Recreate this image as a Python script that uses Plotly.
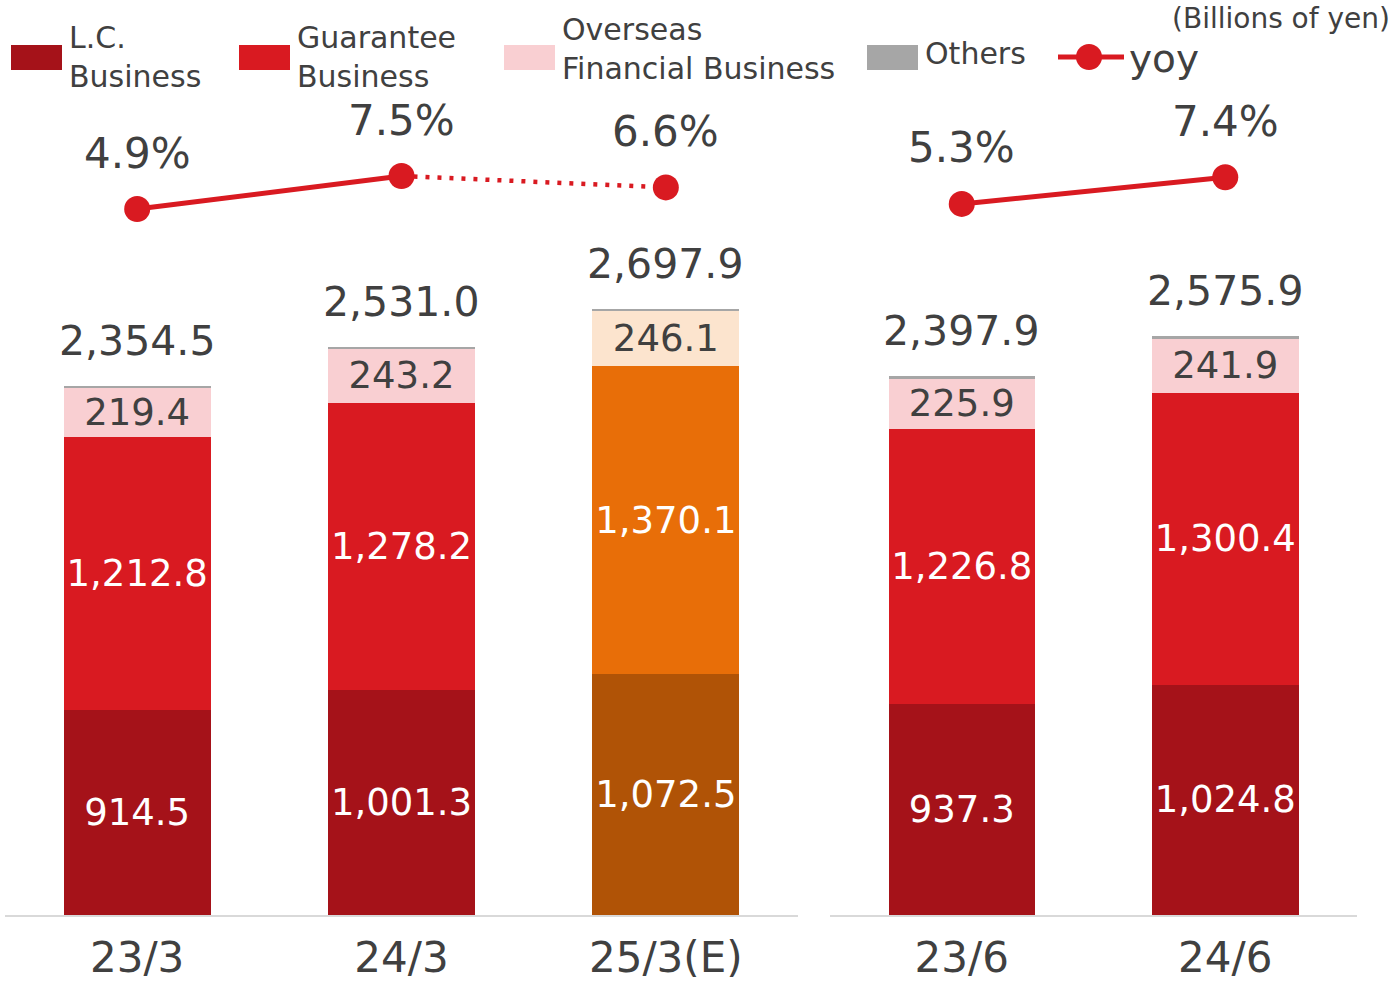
import plotly.graph_objects as go

# ---------------- data ----------------
cats_left = ["23/3", "24/3", "25/3(E)"]
cats_right = ["23/6", "24/6"]

lc_left = [914.5, 1001.3, 1072.5]
lc_right = [937.3, 1024.8]
guar_left = [1212.8, 1278.2, 1370.1]
guar_right = [1226.8, 1300.4]
over_left = [219.4, 243.2, 246.1]
over_right = [225.9, 241.9]
total_left = [2354.5, 2531.0, 2697.9]
total_right = [2397.9, 2575.9]
others_left = [round(t - a - b - c, 1) for t, a, b, c in zip(total_left, lc_left, guar_left, over_left)]
others_right = [round(t - a - b - c, 1) for t, a, b, c in zip(total_right, lc_right, guar_right, over_right)]

yoy_left = [4.9, 7.5, 6.6]
yoy_right = [5.3, 7.4]

# ---------------- style ----------------
FONT = "DejaVu Sans"
TXT = "#404040"
C_LC = "#A51219"
C_GU = "#D91A21"
C_OV = "#F9CFD2"
C_OT = "#A6A6A6"
C_LC_E = "#B05306"
C_GU_E = "#E86E08"
C_OV_E = "#FCE4CE"
RED = "#D91A21"

W, H = 1394, 986


def px(x):
    return x / W


def py(y):
    return 1 - y / H


def colors(n, normal, est, est_last):
    return [est if (est_last and i == n - 1) else normal for i in range(n)]


fig = go.Figure()


def add_bars(cats, lc, gu, ov, ot, xaxis, est_last):
    n = len(cats)
    fmt = lambda arr: [f"{v:,.1f}" for v in arr]
    common = dict(x=cats, xaxis=xaxis, yaxis="y", textposition="inside",
                  insidetextanchor="middle", textangle=0, constraintext="none",
                  marker_line_width=0, showlegend=False, hoverinfo="skip")
    fig.add_trace(go.Bar(y=lc, text=fmt(lc), name="L.C. Business",
                         marker_color=colors(n, C_LC, C_LC_E, est_last),
                         textfont=dict(family=FONT, size=37, color="white"), **common))
    fig.add_trace(go.Bar(y=gu, text=fmt(gu), name="Guarantee Business",
                         marker_color=colors(n, C_GU, C_GU_E, est_last),
                         textfont=dict(family=FONT, size=37, color="white"), **common))
    fig.add_trace(go.Bar(y=ov, text=fmt(ov), name="Overseas Financial Business",
                         marker_color=colors(n, C_OV, C_OV_E, est_last),
                         textfont=dict(family=FONT, size=37, color=TXT), **common))
    fig.add_trace(go.Bar(y=ot, name="Others", marker_color=C_OT,
                         x=cats, xaxis=xaxis, yaxis="y", marker_line_width=0,
                         showlegend=False, hoverinfo="skip"))


add_bars(cats_left, lc_left, guar_left, over_left, others_left, "x", True)
add_bars(cats_right, lc_right, guar_right, over_right, others_right, "x2", False)

# yoy lines
fig.add_trace(go.Scatter(x=cats_left[:2], y=yoy_left[:2], xaxis="x", yaxis="y2",
                         mode="lines", line=dict(color=RED, width=5),
                         showlegend=False, hoverinfo="skip"))
fig.add_trace(go.Scatter(x=cats_left[1:], y=yoy_left[1:], xaxis="x", yaxis="y2",
                         mode="lines", line=dict(color=RED, width=4.5, dash="4px,8px"),
                         showlegend=False, hoverinfo="skip"))
fig.add_trace(go.Scatter(x=cats_left, y=yoy_left, xaxis="x", yaxis="y2",
                         mode="markers", marker=dict(color=RED, size=26),
                         name="yoy", showlegend=False, hoverinfo="skip"))
fig.add_trace(go.Scatter(x=cats_right, y=yoy_right, xaxis="x2", yaxis="y2",
                         mode="lines+markers", line=dict(color=RED, width=5),
                         marker=dict(color=RED, size=26),
                         name="yoy", showlegend=False, hoverinfo="skip"))

annotations = []
# totals
for cats, tots, xr in [(cats_left, total_left, "x"), (cats_right, total_right, "x2")]:
    for c, t in zip(cats, tots):
        annotations.append(dict(x=c, y=t, xref=xr, yref="y", text=f"{t:,.1f}",
                                showarrow=False, yanchor="middle", yshift=45,
                                font=dict(family=FONT, size=41, color=TXT)))
# yoy labels
for cats, vals, xr in [(cats_left, yoy_left, "x"), (cats_right, yoy_right, "x2")]:
    for c, v in zip(cats, vals):
        annotations.append(dict(x=c, y=v, xref=xr, yref="y2", text=f"{v:.1f}%",
                                showarrow=False, yanchor="middle", yshift=56,
                                font=dict(family=FONT, size=42, color=TXT)))

# manual legend
LF = dict(family=FONT, size=30, color=TXT)
shapes = []
legend_items = [
    (11, C_LC, "L.C.<br>Business", 67, 57.5),
    (239, C_GU, "Guarantee<br>Business", 295, 57.5),
    (504, C_OV, "Overseas<br>Financial Business", 560, 49),
    (867, C_OT, "Others", 923, 54),
]
for sx, col, label, tx, ty in legend_items:
    shapes.append(dict(type="rect", xref="paper", yref="paper",
                       x0=px(sx), x1=px(sx + 51), y0=py(70), y1=py(45),
                       fillcolor=col, line_width=0, layer="above"))
    annotations.append(dict(x=px(tx), y=py(ty), xref="paper", yref="paper",
                            text=label, showarrow=False, xanchor="left",
                            yanchor="middle", align="left", font=LF))
shapes.append(dict(type="line", xref="paper", yref="paper",
                   x0=px(1058), x1=px(1124), y0=py(57), y1=py(57),
                   line=dict(color=RED, width=5)))
shapes.append(dict(type="circle", xref="paper", yref="paper",
                   x0=px(1089 - 13), x1=px(1089 + 13), y0=py(57 + 13), y1=py(57 - 13),
                   fillcolor=RED, line_width=0))
annotations.append(dict(x=px(1127), y=py(58), xref="paper", yref="paper",
                        text="yoy", showarrow=False, xanchor="left", yanchor="middle",
                        font=dict(family=FONT, size=39, color=TXT)))
annotations.append(dict(x=px(1392), y=py(19), xref="paper", yref="paper",
                        text="(Billions of yen)", showarrow=False, xanchor="right",
                        yanchor="middle", font=dict(family=FONT, size=28, color=TXT)))

ydom = [py(915), py(100)]
xaxis_common = dict(type="category", showline=True, linecolor="#D9D9D9", linewidth=2,
                    showgrid=False, zeroline=False, ticks="outside", ticklen=5,
                    tickcolor="rgba(0,0,0,0)", automargin=False,
                    tickfont=dict(family=FONT, size=42, color=TXT), anchor="y",
                    fixedrange=True)

fig.update_layout(
    width=W, height=H, margin=dict(l=0, r=0, t=0, b=0),
    paper_bgcolor="white", plot_bgcolor="white",
    barmode="stack", bargap=0.444, showlegend=False,
    xaxis=dict(domain=[px(5), px(798)], range=[-0.5, 2.5], **xaxis_common),
    xaxis2=dict(domain=[px(830), px(1357)], range=[-0.5, 1.5], **xaxis_common),
    yaxis=dict(domain=ydom, range=[0, 815 / 0.2246], visible=False, fixedrange=True,
               automargin=False),
    yaxis2=dict(overlaying="y", range=[4.9 - 706 / 12.69, 4.9 + 109 / 12.69],
                visible=False, fixedrange=True, automargin=False),
    annotations=annotations, shapes=shapes,
    font=dict(family=FONT, color=TXT),
)

fig.write_html("out.html", config={"displayModeBar": False},
               post_script="document.body.style.margin='0';document.body.style.overflow='hidden';")
